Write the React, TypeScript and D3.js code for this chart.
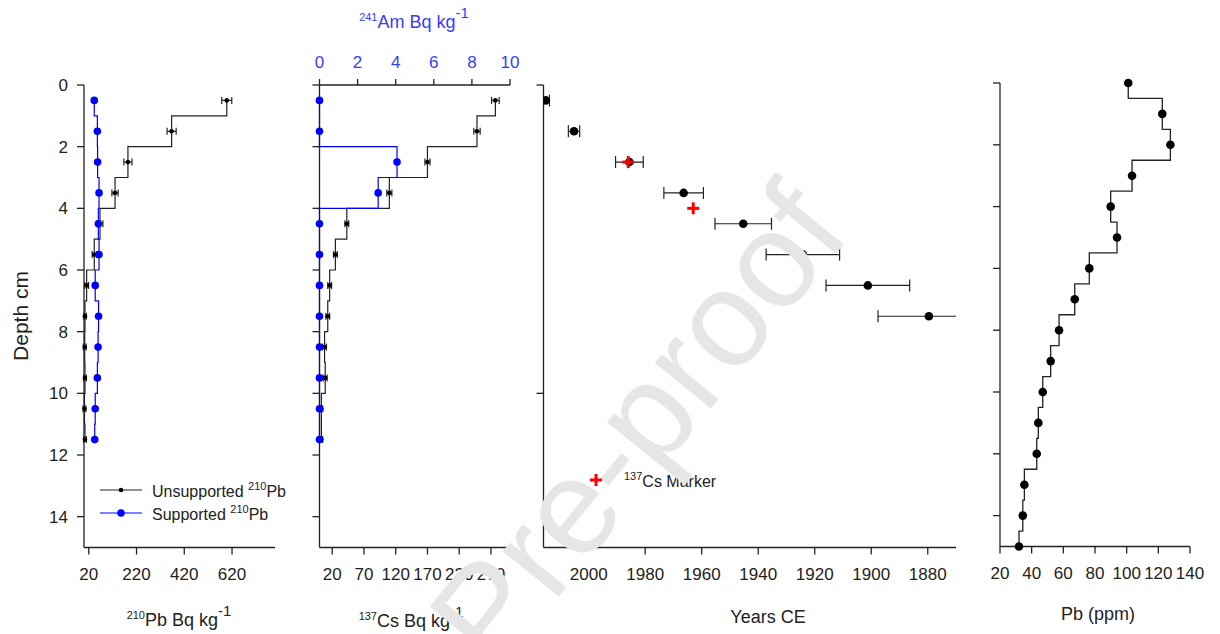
import React from 'react';
import * as d3 from 'd3';

// depths of the radionuclide samples (cm, mid-slice)
const sampleDepths = [0.5, 1.5, 2.5, 3.5, 4.5, 5.5, 6.5, 7.5, 8.5, 9.5, 10.5, 11.5];
const unsupportedPb = [598, 367, 184, 130, 67, 43, 11, 4, 3, 4, 2, 4];
const unsupportedPbErr = [21, 19, 17, 13, 12, 9, 8, 6, 6, 6, 6, 6];
const supportedPb = [43, 56, 57, 63, 60, 63, 47, 61, 59, 56, 47, 45];
const cs137 = [277, 248, 170, 110, 43, 25, 16, 13, 8, 9, 3, 3];
const cs137Err = [6, 5, 4, 4, 3, 3, 3, 3, 3, 3, 2, 2];
const am241 = [0, 0, 4.07, 3.08, 0, 0, 0, 0, 0, 0, 0, 0];

// CRS dates
const dateDepths = [0.5, 1.5, 2.5, 3.5, 4.5, 5.5, 6.5, 7.5];
const dateYears = [2015.2, 2005.2, 1985.6, 1966.4, 1945.3, 1924.2, 1901.2, 1879.6];
const dateErr = [1.3, 2, 4.9, 7, 10, 13, 14.8, 18];
const csMarkerYears = [1986, 1963];
const csMarkerDepths = [2.5, 4.0];

// Pb concentration
const pbDepths = [0, 1, 2, 3, 4, 5, 6, 7, 8, 9, 10, 11, 12, 13, 14, 15];
const pbPpm = [101, 122.5, 127.6, 103.4, 89.9, 93.9, 76.4, 67.2, 57.3, 52, 47, 44.2, 43.2, 35.4, 34.4, 32];

// ticks
const depthTicks = [0, 2, 4, 6, 8, 10, 12, 14];
const dateDepthTicks = [0, 10];
const pbTicks = [20, 220, 420, 620];
const csTicks = [20, 70, 120, 170, 220, 270];
const amTicks = [0, 2, 4, 6, 8, 10];
const yearTicks = [1980, 1960, 1940, 1920, 1900, 1880];
const yearLabels = [2000, 1980, 1960, 1940, 1920, 1900, 1880];
const ppmTicks = [20, 40, 60, 80, 100, 120, 140];

const FONT = '"Liberation Sans", Arial, sans-serif';
const INK = '#222';
const BLUE = '#0000ff';
const BLUE_TXT = '#3a3aff';

const y = d3.scaleLinear().domain([0, 15]).range([85, 547.5]);
const yPb = d3.scaleLinear().domain([0, 15]).range([83, 546.5]);
const xPb210 = d3.scaleLinear().domain([0, 800]).range([84, 275]);
const xCs = d3.scaleLinear().domain([0, 300]).range([319.5, 510]);
const xAm = d3.scaleLinear().domain([0, 10]).range([319.5, 510]);
const xYear = d3.scaleLinear().domain([2016, 1870]).range([543.5, 956]);
const xPpm = d3.scaleLinear().domain([20, 140]).range([1000, 1190]);

function stepPath(vals: number[], depths: number[], sx: any, sy: any) {
  const pts: [number, number][] = [];
  vals.forEach((v, i) => {
    pts.push([v, depths[i]]);
    if (i < vals.length - 1) {
      const mid = (depths[i] + depths[i + 1]) / 2;
      pts.push([v, mid]);
      pts.push([vals[i + 1], mid]);
    }
  });
  return d3.line<[number, number]>().x((p) => sx(p[0])).y((p) => sy(p[1]))(pts) || '';
}

function ErrBars({ vals, errs, depths, sx, sy, cap, r }: any) {
  return (
    <g>
      {vals.map((v: number, i: number) => {
        const x0 = sx(v - errs[i]);
        const x1 = sx(v + errs[i]);
        const yy = sy(depths[i]);
        return (
          <g key={i}>
            <line x1={x0} x2={x1} y1={yy} y2={yy} stroke={INK} strokeWidth={1.2} />
            <line x1={x0} x2={x0} y1={yy - cap} y2={yy + cap} stroke={INK} strokeWidth={1.2} />
            <line x1={x1} x2={x1} y1={yy - cap} y2={yy + cap} stroke={INK} strokeWidth={1.2} />
            <circle cx={sx(v)} cy={yy} r={r} fill="#000" />
          </g>
        );
      })}
    </g>
  );
}

function LeftAxis({ x, sy, ticks, labels }: any) {
  const [r0, r1] = sy.range();
  return (
    <g>
      <line x1={x} x2={x} y1={r0} y2={r1} stroke={INK} strokeWidth={1.3} />
      {ticks.map((t: number) => (
        <g key={t}>
          <line x1={x - 7} x2={x} y1={sy(t)} y2={sy(t)} stroke={INK} strokeWidth={1.3} />
          {labels && (
            <text x={x - 16} y={sy(t) + 6} textAnchor="end" fontSize={17} fill={INK}>
              {t}
            </text>
          )}
        </g>
      ))}
    </g>
  );
}

function BottomAxis({ yy, sx, ticks, labels }: any) {
  const [r0, r1] = sx.range();
  return (
    <g>
      <line x1={r0} x2={r1} y1={yy} y2={yy} stroke={INK} strokeWidth={1.3} />
      {ticks.map((t: number) => (
        <line key={t} x1={sx(t)} x2={sx(t)} y1={yy} y2={yy + 7} stroke={INK} strokeWidth={1.3} />
      ))}
      {labels.map((t: number) => (
        <text key={'l' + t} x={sx(t)} y={yy + 32} textAnchor="middle" fontSize={17} fill={INK}>
          {t}
        </text>
      ))}
    </g>
  );
}

export default function App() {
  const yAxisB = 547.5;
  return (
    <svg
      width={1220}
      height={634}
      style={{ position: 'absolute', left: 0, top: 0, background: '#fff' }}
      fontFamily={FONT}
    >
      <defs>
        <clipPath id="datesClip">
          <rect x={543.5} y={70} width={956 - 543.5} height={480} />
        </clipPath>
      </defs>
      <rect width={1220} height={634} fill="#fff" />

      {/* Panel 1: 210Pb */}
      <LeftAxis x={84} sy={y} ticks={depthTicks} labels />
      <BottomAxis yy={yAxisB} sx={xPb210} ticks={pbTicks} labels={pbTicks} />
      <path d={stepPath(supportedPb, sampleDepths, xPb210, y)} fill="none" stroke={BLUE} strokeWidth={1.2} />
      <path d={stepPath(unsupportedPb, sampleDepths, xPb210, y)} fill="none" stroke={INK} strokeWidth={1.2} />
      <ErrBars vals={unsupportedPb} errs={unsupportedPbErr} depths={sampleDepths} sx={xPb210} sy={y} cap={3.5} r={2.3} />
      {supportedPb.map((v, i) => (
        <circle key={i} cx={xPb210(v)} cy={y(sampleDepths[i])} r={3.8} fill={BLUE} />
      ))}
      <text transform="translate(28,316) rotate(-90)" textAnchor="middle" fontSize={21} fill={INK}>
        Depth cm
      </text>
      <text x={179} y={626} textAnchor="middle" fontSize={18} fill={INK}>
        <tspan fontSize={11} dy={-7}>210</tspan>
        <tspan dy={7}>Pb Bq kg</tspan>
        <tspan fontSize={15} dy={-10}>-1</tspan>
      </text>
      {/* legend */}
      <line x1={100} x2={142} y1={490} y2={490} stroke={INK} strokeWidth={1.2} />
      <circle cx={121} cy={490} r={2.3} fill="#000" />
      <text x={152} y={497} fontSize={16} fill={INK}>
        Unsupported <tspan fontSize={11} dy={-7}>210</tspan>
        <tspan dy={7}>Pb</tspan>
      </text>
      <line x1={100} x2={142} y1={513} y2={513} stroke={BLUE} strokeWidth={1.2} />
      <circle cx={121} cy={513} r={3.8} fill={BLUE} />
      <text x={152} y={520} fontSize={16} fill={INK}>
        Supported <tspan fontSize={11} dy={-7}>210</tspan>
        <tspan dy={7}>Pb</tspan>
      </text>

      {/* Panel 2: 137Cs and 241Am */}
      <LeftAxis x={319.5} sy={y} ticks={depthTicks} />
      <BottomAxis yy={yAxisB} sx={xCs} ticks={csTicks} labels={csTicks} />
      <line x1={319.5} x2={510} y1={y(0)} y2={y(0)} stroke={INK} strokeWidth={1.3} />
      {amTicks.map((t) => (
        <g key={t}>
          <line x1={xAm(t)} x2={xAm(t)} y1={y(0)} y2={y(0) - 6} stroke={INK} strokeWidth={1.3} />
          <text x={xAm(t)} y={68} textAnchor="middle" fontSize={17} fill={BLUE_TXT}>
            {t}
          </text>
        </g>
      ))}
      <text x={414} y={28} textAnchor="middle" fontSize={18} fill={BLUE_TXT}>
        <tspan fontSize={11} dy={-7}>241</tspan>
        <tspan dy={7}>Am Bq kg</tspan>
        <tspan fontSize={15} dy={-10}>-1</tspan>
      </text>
      <path d={stepPath(cs137, sampleDepths, xCs, y)} fill="none" stroke={INK} strokeWidth={1.2} />
      <path d={stepPath(am241, sampleDepths, xAm, y)} fill="none" stroke={BLUE} strokeWidth={1.2} />
      <ErrBars vals={cs137} errs={cs137Err} depths={sampleDepths} sx={xCs} sy={y} cap={3.5} r={2.3} />
      {am241.map((v, i) => (
        <circle key={i} cx={xAm(v)} cy={y(sampleDepths[i])} r={3.8} fill={BLUE} />
      ))}
      <text x={411} y={627} textAnchor="middle" fontSize={18} fill={INK}>
        <tspan fontSize={11} dy={-7}>137</tspan>
        <tspan dy={7}>Cs Bq kg</tspan>
        <tspan fontSize={15} dy={-10}>-1</tspan>
      </text>

      {/* Panel 3: dates */}
      <LeftAxis x={543.5} sy={y} ticks={dateDepthTicks} />
      <BottomAxis yy={yAxisB} sx={xYear} ticks={yearTicks} labels={yearLabels} />
      <g clipPath="url(#datesClip)">
        <ErrBars vals={dateYears} errs={dateErr.map((e) => -e)} depths={dateDepths} sx={xYear} sy={y} cap={6} r={4.3} />
      </g>
      {csMarkerYears.map((yr, i) => (
        <g key={i} stroke="#ff0000" strokeWidth={3}>
          <line x1={xYear(yr) - 6} x2={xYear(yr) + 6} y1={y(csMarkerDepths[i])} y2={y(csMarkerDepths[i])} />
          <line x1={xYear(yr)} x2={xYear(yr)} y1={y(csMarkerDepths[i]) - 6} y2={y(csMarkerDepths[i]) + 6} />
        </g>
      ))}
      <text x={768} y={623} textAnchor="middle" fontSize={18} fill={INK}>
        Years CE
      </text>
      <text x={624} y={487} fontSize={16} fill={INK}>
        <tspan fontSize={11} dy={-7}>137</tspan>
        <tspan dy={7}>Cs Marker</tspan>
      </text>

      {/* Panel 4: Pb ppm */}
      <LeftAxis x={1000} sy={yPb} ticks={depthTicks} />
      <BottomAxis yy={546.5} sx={xPpm} ticks={ppmTicks} labels={ppmTicks} />
      <path d={stepPath(pbPpm, pbDepths, xPpm, yPb)} fill="none" stroke={INK} strokeWidth={1.3} />
      {pbPpm.map((v, i) => (
        <circle key={i} cx={xPpm(v)} cy={yPb(pbDepths[i])} r={4.3} fill="#000" />
      ))}
      <text x={1098} y={620} textAnchor="middle" fontSize={18} fill={INK}>
        Pb (ppm)
      </text>

      {/* watermark */}
      <text
        transform="translate(674,454) rotate(-51)"
        textAnchor="middle"
        fontSize={136}
        fill="#e6e6e6"
      >
        Pre-proof
      </text>

      {/* Cs marker legend symbol sits above the watermark */}
      <g stroke="#ff0000" strokeWidth={3}>
        <line x1={590} x2={602} y1={480} y2={480} />
        <line x1={596} x2={596} y1={474} y2={486} />
      </g>
    </svg>
  );
}
